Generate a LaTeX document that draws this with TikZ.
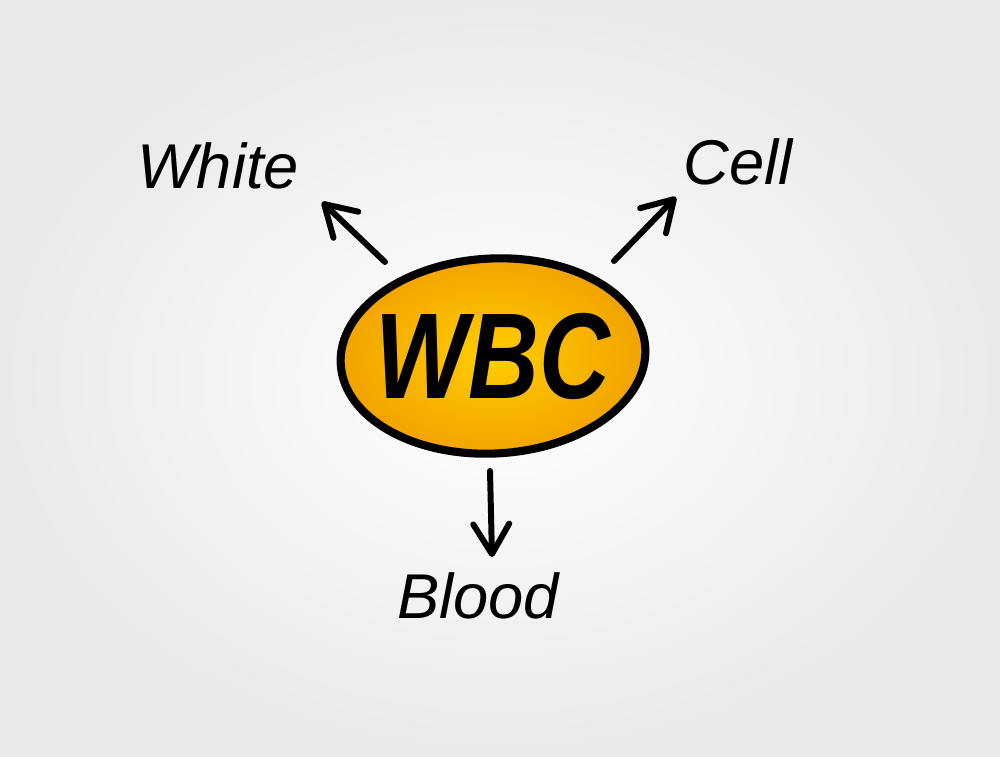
\documentclass[tikz,border=0pt]{standalone}
\usepackage{fontspec}
\setmainfont{Liberation Sans}
\usepackage{tikz}
\usetikzlibrary{arrows.meta,shapes.geometric,positioning}
\definecolor{wbcinner}{RGB}{255,206,0}
\definecolor{wbcouter}{RGB}{242,162,0}
\definecolor{bggray}{RGB}{234,234,234}
\tikzset{
  pointer/.style={line width=1.7pt, line cap=round, -{Straight Barb[length=3mm,width=3.6mm,round]}},
  word/.style={font=\fontsize{18}{18}\selectfont\itshape, inner sep=0pt}
}

\begin{document}
\begin{tikzpicture}[scale=1.0]
% background
\shade[inner color=white, outer color=bggray] (0,0) rectangle (10,7.56);
\useasboundingbox (0,0) rectangle (10,7.56);

% central ellipse
\node[ellipse, draw, line width=2.3pt, inner color=wbcinner, outer color=wbcouter,
      inner sep=0pt, minimum width=3.05cm, minimum height=1.95cm, rotate=3] (wbc) at (4.93,4.00) {};
\node[inner sep=0pt] (wbctext) at (wbc.center)
  {\scalebox{0.9}[1.12]{\fontsize{31}{31}\selectfont\bfseries\itshape WBC}};

% the three words
\node[word] (white) at (2.18,5.90) {White};
\node[word] (cell) at (7.38,5.94) {Cell};
\node[word] (blood) at (4.78,1.60) {Blood};

% arrow ends
\coordinate (whitetip) at (3.22,5.54);
\coordinate (celltip) at (6.76,5.59);
\coordinate (bloodtip) at (4.92,1.99);
\coordinate (whitefoot) at (3.85,4.94);
\coordinate (cellfoot) at (6.14,4.95);
\coordinate (bloodfoot) at (4.90,2.85);

\draw[pointer] (whitefoot) -- (whitetip);
\draw[pointer] (cellfoot) -- (celltip);
\draw[pointer] (bloodfoot) -- (bloodtip);
\end{tikzpicture}
\end{document}
